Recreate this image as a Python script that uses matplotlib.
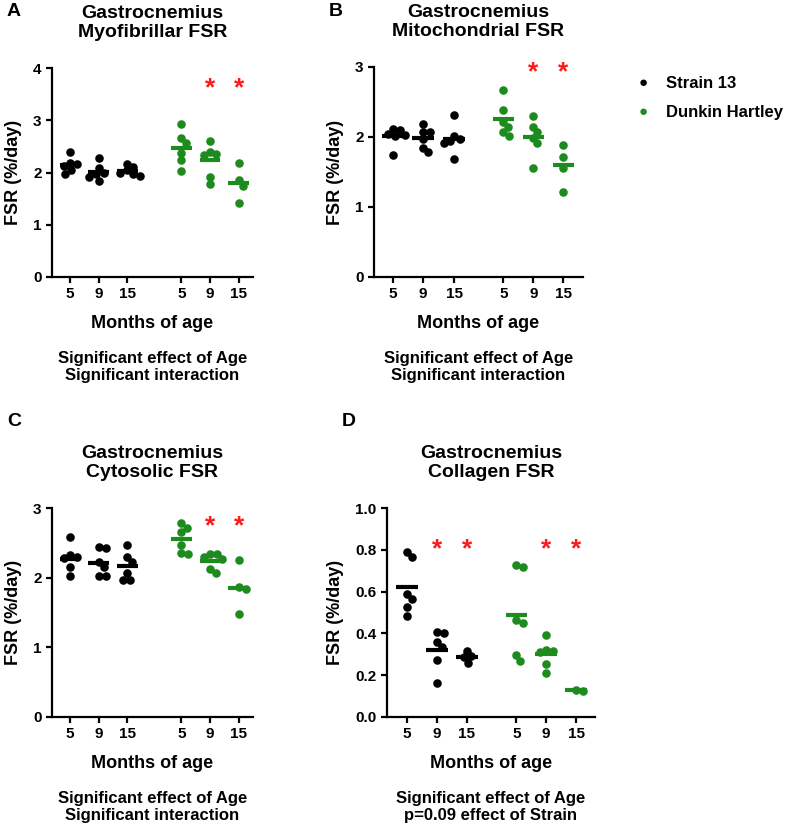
import numpy as np
import matplotlib
matplotlib.use("Agg")
import matplotlib.pyplot as plt

plt.rcParams['font.family'] = ['Liberation Sans', 'DejaVu Sans']
plt.rcParams['font.weight'] = 'bold'

BLACK = '#000000'
GREEN = '#1E8B1E'
RED = '#FF1A1A'

ages = ['5', '9', '15']

# FSR (%/day) per animal, groups in order 5, 9, 15 months
myo_s13 = [[2.39, 2.18, 2.16, 2.13, 2.05, 1.98],
           [2.28, 2.09, 2.00, 1.97, 1.92, 1.83],
           [2.17, 2.10, 2.04, 2.00, 1.97, 1.94]]
myo_dh = [[2.92, 2.66, 2.57, 2.38, 2.24, 2.02],
          [2.61, 2.40, 2.35, 2.33, 1.92, 1.78],
          [2.19, 1.85, 1.74, 1.41]]

mito_s13 = [[2.12, 2.10, 2.05, 2.03, 2.02, 1.75],
            [2.18, 2.07, 2.07, 1.97, 1.85, 1.78],
            [2.32, 2.02, 1.97, 1.94, 1.91, 1.69]]
mito_dh = [[2.67, 2.38, 2.22, 2.15, 2.07, 2.02],
           [2.30, 2.15, 2.07, 1.99, 1.91, 1.56],
           [1.88, 1.72, 1.56, 1.22]]

cyto_s13 = [[2.58, 2.32, 2.30, 2.28, 2.15, 2.02],
            [2.44, 2.42, 2.23, 2.16, 2.03, 2.02],
            [2.47, 2.30, 2.23, 2.06, 1.97, 1.96]]
cyto_dh = [[2.78, 2.72, 2.66, 2.47, 2.35, 2.34],
           [2.34, 2.34, 2.29, 2.27, 2.12, 2.07],
           [2.25, 1.86, 1.84, 1.48]]

coll_s13 = [[0.789, 0.765, 0.589, 0.565, 0.528, 0.485],
            [0.405, 0.400, 0.357, 0.336, 0.272, 0.165],
            [0.315, 0.290, 0.285, 0.258]]
coll_dh = [[0.725, 0.720, 0.464, 0.451, 0.296, 0.269],
           [0.390, 0.320, 0.315, 0.310, 0.255, 0.210],
           [0.130, 0.125]]

W, H = 787, 824
fig = plt.figure(figsize=(W / 100, H / 100), dpi=100)


def fx(px):
    return px / W


def fy(py):
    return 1 - py / H


def swarm(ax, xc, vals, diam):
    # simple beeswarm in display space
    pts = []
    order = np.argsort(vals)[::-1]
    out = np.zeros(len(vals))
    x0, _ = ax.transData.transform((xc, 0))
    for i in order:
        _, yd = ax.transData.transform((xc, vals[i]))
        k = 0
        while True:
            off = ((k + 1) // 2) * 0.5 * (1 if k % 2 else -1)
            cand = x0 + off
            if all((cand - px) ** 2 + (yd - py) ** 2 >= diam ** 2 for px, py in pts):
                break
            k += 1
        pts.append((cand, yd))
        out[i] = ax.transData.inverted().transform((cand, yd))[0]
    return out


def panel(rect, letter, title, s13, dh, ymax, yticks, yfmt, xpos, xlim, star_idx, star_y, notes):
    left, right, top, bottom = rect
    ax = fig.add_axes([fx(left), fy(bottom), fx(right - left), (bottom - top) / H])
    ax.set_xlim(*xlim)
    ax.set_ylim(0, ymax)
    for s in ['top', 'right']:
        ax.spines[s].set_visible(False)
    for s in ['left', 'bottom']:
        ax.spines[s].set_linewidth(1.6)
    ax.tick_params(width=1.6, length=4.5, labelsize=11, pad=3)
    ax.set_yticks(yticks)
    ax.set_yticklabels([yfmt.format(t) for t in yticks], fontweight='bold')
    ax.set_xticks(xpos)
    ax.set_xticklabels(ages + ages, fontweight='bold')
    ax.set_ylabel('FSR (%/day)', fontsize=13, fontweight='bold', labelpad=8)

    groups = [(s13[i], BLACK) for i in range(3)] + [(dh[i], GREEN) for i in range(3)]
    for (vals, col), xc in zip(groups, xpos):
        vals = np.array(vals)
        xs = swarm(ax, xc, vals, 6.8)
        ax.scatter(xs, vals, s=38, color=col, linewidths=0, clip_on=False, zorder=3)
        m = vals.mean()
        ax.plot([xc - 0.36, xc + 0.36], [m, m], color=col, lw=3,
                solid_capstyle='butt', zorder=2)

    for i in star_idx:
        ax.text(xpos[i], star_y, '*', color=RED, fontsize=19, fontweight='bold',
                ha='center', va='center')

    cx = (left + right) / 2
    fig.text(fx(cx), fy(top - 45), title, ha='center', va='center',
             fontsize=14, fontweight='bold', linespacing=1.15)
    fig.text(fx(left - 45), fy(top - 56 if letter in 'AB' else top - 86), letter,
             ha='left', va='center', fontsize=14, fontweight='bold')
    fig.text(fx(cx), fy(bottom + 46), 'Months of age', ha='center', va='center',
             fontsize=13, fontweight='bold')
    fig.text(fx(cx), fy(bottom + 90), notes, ha='center', va='center',
             fontsize=12, fontweight='bold', linespacing=1.2)
    return ax


posA = [0, 1, 2, 3.88, 4.88, 5.88]
posB = [0, 1, 2.03, 3.67, 4.67, 5.67]

panel((52, 253, 68, 277), 'A', 'Gastrocnemius\nMyofibrillar FSR', myo_s13, myo_dh,
      4, [0, 1, 2, 3, 4], '{:.0f}', posA, (-0.63, 6.38), [4, 5], 3.62,
      'Significant effect of Age\nSignificant interaction')
panel((374, 583, 67, 277), 'B', 'Gastrocnemius\nMitochondrial FSR', mito_s13, mito_dh,
      3, [0, 1, 2, 3], '{:.0f}', posB, (-0.64, 6.32), [4, 5], 2.93,
      'Significant effect of Age\nSignificant interaction')
panel((52, 253, 508, 717), 'C', 'Gastrocnemius\nCytosolic FSR', cyto_s13, cyto_dh,
      3, [0, 1, 2, 3], '{:.0f}', posA, (-0.63, 6.38), [4, 5], 2.73,
      'Significant effect of Age\nSignificant interaction')
panel((387, 595, 508, 717), 'D', 'Gastrocnemius\nCollagen FSR', coll_s13, coll_dh,
      1.0, [0, 0.2, 0.4, 0.6, 0.8, 1.0], '{:.1f}', [0, 1, 2, 3.65, 4.65, 5.65],
      (-0.67, 6.28), [1, 2, 4, 5], 0.8,
      'Significant effect of Age\np=0.09 effect of Strain')

# legend
for label, col, py in [('Strain 13', BLACK, 83), ('Dunkin Hartley', GREEN, 112)]:
    fig.text(fx(643), fy(py), '\u25CF', color=col, fontsize=11, ha='center', va='center')
    fig.text(fx(666), fy(py), label, fontsize=12, fontweight='bold', ha='left', va='center')

fig.savefig('out.png', dpi=100)
